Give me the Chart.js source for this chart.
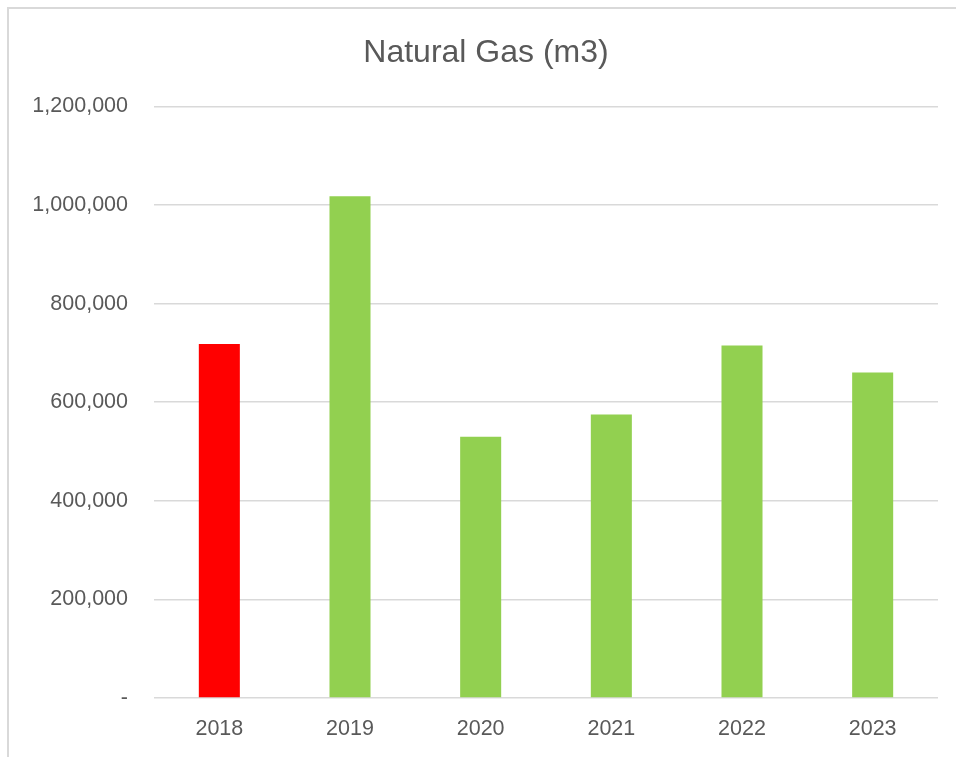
<!DOCTYPE html>
<html>
<head>
<meta charset="utf-8">
<script src="https://cdn.jsdelivr.net/npm/chart.js@4"></script>
<style>
  html, body { margin: 0; padding: 0; background: #ffffff; overflow: hidden; }
  #frame { position: absolute; left: 7px; top: 7px; width: 1000px; height: 800px;
           border-left: 2px solid #d9d9d9; border-top: 2px solid #d9d9d9; }
  #wrap { position: absolute; left: 0; top: 0; width: 956px; height: 757px; }
</style>
</head>
<body>
<div id="frame"></div>
<div id="wrap"><canvas id="c" width="956" height="757"></canvas></div>
<script>
const categories = ['2018', '2019', '2020', '2021', '2022', '2023'];
const gasValues = [718000, 1018000, 530000, 575000, 715000, 660000];
const yTicks = [0, 200000, 400000, 600000, 800000, 1000000, 1200000];
const titleText = 'Natural Gas (m3)';
const barColors = ['#ff0000', '#92d050', '#92d050', '#92d050', '#92d050', '#92d050'];

const FONT = '"Liberation Sans", Arial, sans-serif';
const TEXT = '#595959';

new Chart(document.getElementById('c'), {
  type: 'bar',
  data: {
    labels: categories,
    datasets: [{
      label: titleText,
      data: gasValues,
      backgroundColor: barColors,
      borderWidth: 0,
      categoryPercentage: 1,
      barPercentage: 0.314
    }]
  },
  options: {
    responsive: false,
    animation: false,
    devicePixelRatio: 1,
    layout: { padding: { left: 34, right: 18, top: 0, bottom: 0 } },
    plugins: {
      legend: { display: false },
      tooltip: { enabled: false },
      title: {
        display: true,
        text: titleText,
        color: TEXT,
        font: { family: FONT, size: 32, weight: 'normal' },
        padding: { top: 34, bottom: 34 }
      }
    },
    scales: {
      x: {
        grid: { display: false, drawTicks: false },
        border: { display: false },
        ticks: { color: TEXT, font: { family: FONT, size: 21.5 }, padding: 18 },
        afterFit: (s) => { s.height = 59; }
      },
      y: {
        min: 0,
        max: yTicks[yTicks.length - 1],
        afterBuildTicks: (s) => { s.ticks = yTicks.map(v => ({ value: v })); },
        grid: { color: '#d9d9d9', lineWidth: 1.5, drawTicks: false },
        border: { display: false },
        ticks: {
          color: TEXT,
          font: { family: FONT, size: 21.5 },
          padding: 26,
          callback: (v) => v === 0 ? '-' : v.toLocaleString('en-US')
        },
        afterFit: (s) => { s.width = 120; }
      }
    }
  }
});
</script>
</body>
</html>
